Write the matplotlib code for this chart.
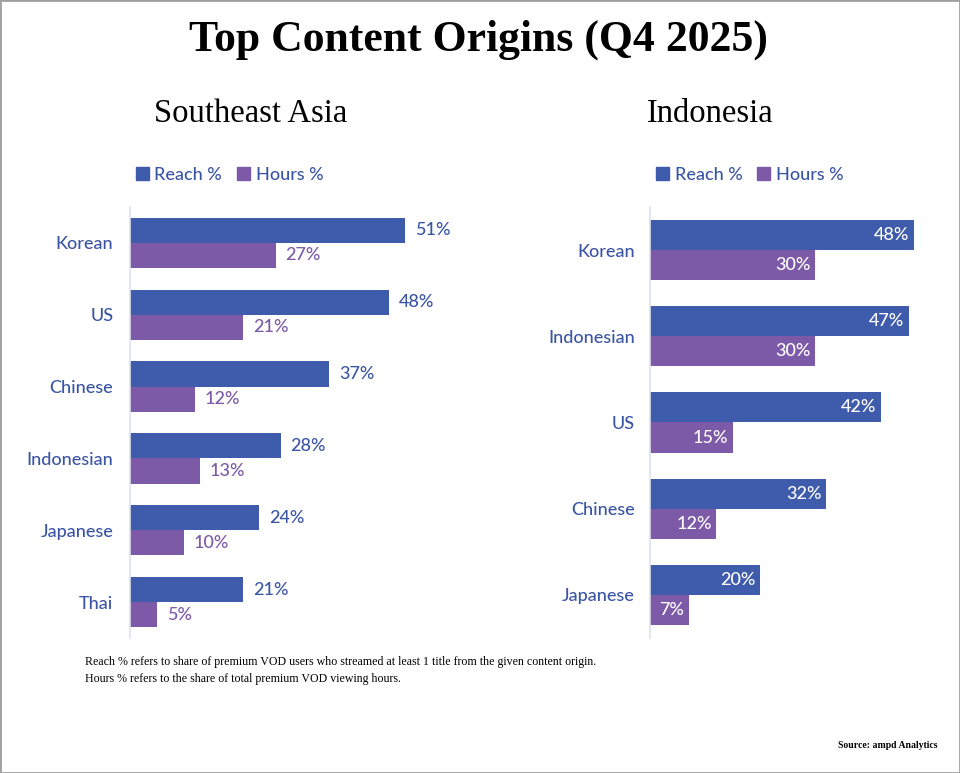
import matplotlib
matplotlib.use("Agg")
import matplotlib.pyplot as plt
from matplotlib.patches import Rectangle, Patch
import numpy as np

# data
sea_origins = ["Korean", "US", "Chinese", "Indonesian", "Japanese", "Thai"]
sea_reach = [51, 48, 37, 28, 24, 21]
sea_hours = [27, 21, 12, 13, 10, 5]

idn_origins = ["Korean", "Indonesian", "US", "Chinese", "Japanese"]
idn_reach = [48, 47, 42, 32, 20]
idn_hours = [30, 30, 15, 12, 7]

REACH = "#3f5bab"
HOURS = "#7d5aa8"
TXT = "#3b55a5"
W, H = 960, 773
FNT = dict(family="Lato", fontweight="medium", fontsize=13)

fig = plt.figure(figsize=(9.6, 7.73), dpi=100)
fig.patches.append(Rectangle((0, 0), 1, 1, transform=fig.transFigure,
                             fill=False, edgecolor="#a0a0a0", linewidth=2))


def px_axes(x0, y0, x1, y1):
    # pixel box (top-left origin) -> figure axes
    return fig.add_axes([x0 / W, 1 - y1 / H, (x1 - x0) / W, (y1 - y0) / H])


def panel(ax, cats, reach, hours, xmax, inside, pad):
    y = np.arange(len(cats))
    bh = 0.35
    ax.barh(y - bh / 2, reach, height=bh, color=REACH)
    ax.barh(y + bh / 2, hours, height=bh, color=HOURS)
    ax.set_xlim(0, xmax)
    ax.set_ylim(len(cats) - 0.5, -0.5)
    ax.set_yticks(y)
    ax.set_yticklabels(cats, color=TXT, **FNT)
    ax.tick_params(axis="y", length=0, pad=pad)
    ax.set_xticks([])
    for s in ["top", "right", "bottom"]:
        ax.spines[s].set_visible(False)
    ax.spines["left"].set_color("#dde2ee")
    ax.spines["left"].set_linewidth(1.2)
    for yi, r, h in zip(y, reach, hours):
        if inside:
            ax.text(r - 0.8, yi - bh / 2, "%d%%" % r, ha="right", va="center",
                    color="white", **FNT)
            ax.text(h - 0.8, yi + bh / 2, "%d%%" % h, ha="right", va="center",
                    color="white", **FNT)
        else:
            ax.text(r + 1.8, yi - bh / 2, "%d%%" % r, ha="left", va="center",
                    color=TXT, **FNT)
            ax.text(h + 1.8, yi + bh / 2, "%d%%" % h, ha="left", va="center",
                    color=HOURS, **FNT)
    handles = [Patch(color=REACH, label="Reach %"), Patch(color=HOURS, label="Hours %")]
    leg = ax.legend(handles=handles, loc="lower left", bbox_to_anchor=(-0.005, 1.04),
                    ncol=2, frameon=False, handlelength=0.75, handleheight=0.75,
                    handletextpad=0.3, columnspacing=0.8, borderaxespad=0,
                    prop={"family": "Lato", "size": 13, "weight": "medium"})
    for t in leg.get_texts():
        t.set_color(TXT)


ax1 = px_axes(130, 207, 470, 638)
panel(ax1, sea_origins, sea_reach, sea_hours, 340 / 5.39, False, 12)

ax2 = px_axes(650, 207, 940, 638)
panel(ax2, idn_origins, idn_reach, idn_hours, 290 / 5.5, True, 11)

fig.text(478 / W, 1 - 40 / H, "Top Content Origins (Q4 2025)", ha="center", va="center",
         fontsize=31.5, fontweight="bold", family="Liberation Serif")
fig.text(251 / W, 1 - 114 / H, "Southeast Asia", ha="center", va="center",
         fontsize=23.5, family="Liberation Serif")
fig.text(710 / W, 1 - 114 / H, "Indonesia", ha="center", va="center",
         fontsize=23.5, family="Liberation Serif")

fig.text(85 / W, 1 - 662 / H,
         "Reach % refers to share of premium VOD users who streamed at least 1 title from the given content origin.",
         ha="left", va="center", fontsize=8.6, family="Liberation Serif")
fig.text(85 / W, 1 - 679 / H,
         "Hours % refers to the share of total premium VOD viewing hours.",
         ha="left", va="center", fontsize=8.6, family="Liberation Serif")
fig.text(937 / W, 1 - 745 / H, "Source: ampd Analytics", ha="right", va="center",
         fontsize=7, fontweight="bold", family="Liberation Serif")

fig.savefig("out.png", dpi=100)
